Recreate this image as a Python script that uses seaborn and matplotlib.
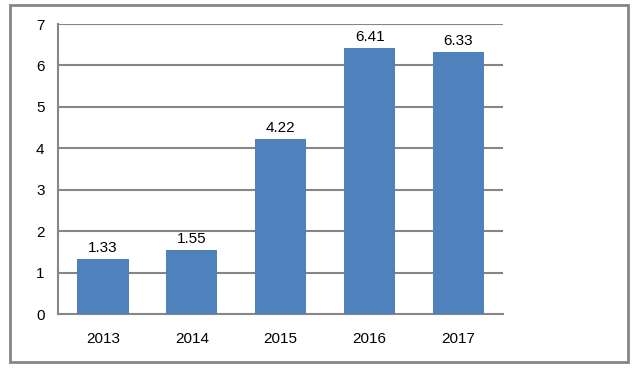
import pandas as pd
import matplotlib
matplotlib.use('Agg')
import matplotlib.pyplot as plt
import seaborn as sns
from matplotlib.patches import Rectangle

# data
years = ['2013', '2014', '2015', '2016', '2017']
values = [1.33, 1.55, 4.22, 6.41, 6.33]
yticks = [0, 1, 2, 3, 4, 5, 6, 7]

df = pd.DataFrame({'year': years, 'value': values})

sns.set_style('white')
plt.rcParams['font.family'] = ['Liberation Sans', 'DejaVu Sans']
plt.rcParams['text.color'] = 'black'
plt.rcParams['xtick.color'] = 'black'
plt.rcParams['ytick.color'] = 'black'

grey = '#868686'
fig = plt.figure(figsize=(6.36, 3.74), dpi=100)
ax = fig.add_axes([58.5 / 636, 1 - 314 / 374, (503 - 58.5) / 636, (314 - 24) / 374])

sns.barplot(x='year', y='value', data=df, color='#4F81BD', width=0.575,
            saturation=1, linewidth=0, ax=ax, zorder=3)

ax.set_ylim(0, 7)
ax.set_xlim(-0.5, 4.5)
ax.set_yticks(yticks)
for y in yticks[1:]:
    ax.axhline(y, color=grey, lw=1.5, zorder=1)

for i, v in enumerate(values):
    ax.text(i, v + 0.1, f'{v:.2f}', ha='center', va='bottom', fontsize=11,
            color='black')

ax.set_xlabel('')
ax.set_ylabel('')
ax.tick_params(axis='both', length=0, labelsize=11, labelcolor='black')
ax.tick_params(axis='y', pad=10)
ax.tick_params(axis='x', pad=13)
for s in ['top', 'right']:
    ax.spines[s].set_visible(False)
for s in ['left', 'bottom']:
    ax.spines[s].set_color(grey)
    ax.spines[s].set_linewidth(1.5)

# outer frame
fig.patches.append(Rectangle((10 / 636, 1 - 362 / 374), 618 / 636, 357 / 374,
                             transform=fig.transFigure, fill=False,
                             edgecolor=grey, lw=2))

fig.savefig('out.png', dpi=100)
